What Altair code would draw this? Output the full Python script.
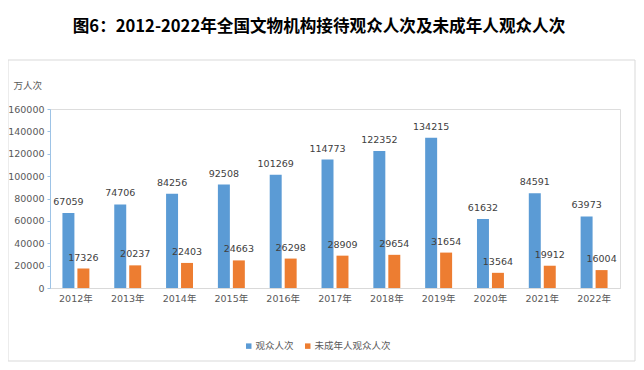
import altair as alt
import pandas as pd

years = ["2012年", "2013年", "2014年", "2015年", "2016年", "2017年",
         "2018年", "2019年", "2020年", "2021年", "2022年"]
visitors = [67059, 74706, 84256, 92508, 101269, 114773, 122352, 134215, 61632, 84591, 63973]
minors = [17326, 20237, 22403, 24663, 26298, 28909, 29654, 31654, 13564, 19912, 16004]
series = ["观众人次", "未成年人观众人次"]
colors = ["#5b9bd5", "#ed7d31"]
y_ticks = [0, 20000, 40000, 60000, 80000, 100000, 120000, 140000, 160000]

rows = []
for yr, v, m in zip(years, visitors, minors):
    rows.append({"year": yr, "series": series[0], "value": v})
    rows.append({"year": yr, "series": series[1], "value": m})
df = pd.DataFrame(rows)

FONT = "DejaVu Sans, Noto Sans CJK SC"
GRAY = "#595959"

x_enc = alt.X("year:N", sort=years, title=None,
              scale=alt.Scale(paddingInner=0.48, paddingOuter=0.24),
              axis=alt.Axis(labelAngle=0, ticks=False, domainColor="#d9d9d9",
                            labelPadding=5, labelFontSize=9.5, labelColor=GRAY,
                            labelFont=FONT))
xoff = alt.XOffset("series:N", sort=series, scale=alt.Scale(paddingInner=0.2))
y_enc = alt.Y("value:Q", scale=alt.Scale(domain=[0, 160000], nice=False),
              title="万人次",
              axis=alt.Axis(values=y_ticks, format="d", labelOverlap=False,
                            grid=False, domainColor="#9dc3e6",
                            tickColor="#9dc3e6", tickSize=3, labelPadding=3,
                            labelFontSize=9.5, labelColor=GRAY, labelFont=FONT,
                            titleAngle=0, titleX=-37, titleY=-24,
                            titleAlign="left", titleBaseline="middle",
                            titleFontSize=9.5, titleFontWeight="normal",
                            titleColor=GRAY, titleFont="Noto Sans CJK SC"))
color_enc = alt.Color("series:N", sort=series,
                      scale=alt.Scale(domain=series, range=colors),
                      legend=alt.Legend(title=None, orient="none", direction="horizontal",
                                        legendX=194, legendY=232, symbolType="square",
                                        symbolSize=30, labelFontSize=9.5, labelColor=GRAY,
                                        labelFont="Noto Sans CJK SC", columnPadding=9,
                                        symbolStrokeWidth=0, labelOffset=2))

bars = alt.Chart(df).mark_bar().encode(x=x_enc, xOffset=xoff, y=y_enc, color=color_enc)
labels = alt.Chart(df).mark_text(baseline="middle", dy=-11, fontSize=9.5,
                                 color="#404040", font=FONT).encode(
    x=x_enc, xOffset=xoff, y=y_enc, text="value:Q")

border = alt.Chart(pd.DataFrame({"a": [0]})).mark_rect(
    fill=None, stroke="#d9d9d9", strokeWidth=1).encode(
    x=alt.value(-42), x2=alt.value(585), y=alt.value(-49), y2=alt.value(252))

chart = alt.layer(border, bars, labels).properties(
    width=570, height=179,
    autosize=alt.AutoSizeParams(type="none"),
    padding={"left": 42, "top": 101, "right": 16, "bottom": 76},
    title=alt.TitleParams("图6：2012-2022年全国文物机构接待观众人次及未成年人观众人次",
                          anchor="middle", dx=-16, offset=24, fontSize=16.6,
                          font="Noto Sans CJK SC", fontWeight="bold", color="#000000"),
).configure_view(stroke=None).configure(background="white")

chart.save("out.html", embed_options={"renderer": "svg", "actions": False})
